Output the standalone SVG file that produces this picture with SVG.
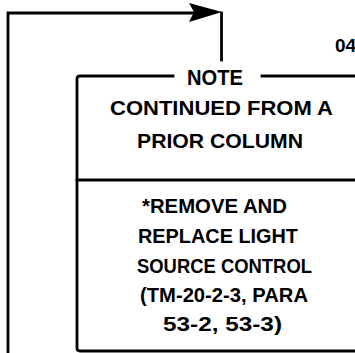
<svg xmlns="http://www.w3.org/2000/svg" width="355" height="353" viewBox="0 0 355 353">
<style>
.ln{fill:none;stroke:#000;stroke-width:2.8;stroke-linecap:square}
.t{font-family:"Liberation Sans",Arial,sans-serif;font-weight:bold;font-size:21px;fill:#000}
</style>
<rect width="355" height="353" fill="#fff"/>
<g id="connectors">
<path class="ln" d="M8,353 L8,13 L200,13"/>
<path d="M222,12 L189,3 L194,12 L189,22 Z" fill="#000"/>
<path class="ln" d="M221.5,13 L221.5,60"/>
</g>
<g id="note-box">
<path class="ln" d="M173,76 L80,76 Q77,76 77,79 L77,348 Q77,351 80,351 L356,351"/>
<path class="ln" d="M262,76 L356,76"/>
<text class="t" x="187" y="85" style="font-size:22px" textLength="56" lengthAdjust="spacingAndGlyphs">NOTE</text>
<text class="t" x="110" y="115" textLength="223" lengthAdjust="spacingAndGlyphs">CONTINUED FROM A</text>
<text class="t" x="137" y="148" textLength="166" lengthAdjust="spacingAndGlyphs">PRIOR COLUMN</text>
<path class="ln" d="M77,180 L356,180"/>
<text class="t" x="142" y="213" textLength="145" lengthAdjust="spacingAndGlyphs">*REMOVE AND</text>
<text class="t" x="138" y="243" textLength="160" lengthAdjust="spacingAndGlyphs">REPLACE LIGHT</text>
<text class="t" x="137" y="273" textLength="175" lengthAdjust="spacingAndGlyphs">SOURCE CONTROL</text>
<text class="t" x="140" y="302" textLength="168" lengthAdjust="spacingAndGlyphs">(TM-20-2-3, PARA</text>
<text class="t" x="163" y="331" textLength="119" lengthAdjust="spacingAndGlyphs">53-2, 53-3)</text>
</g>
<g id="label">
<text class="t" x="335" y="52" style="font-size:19px">04</text>
</g>
</svg>
